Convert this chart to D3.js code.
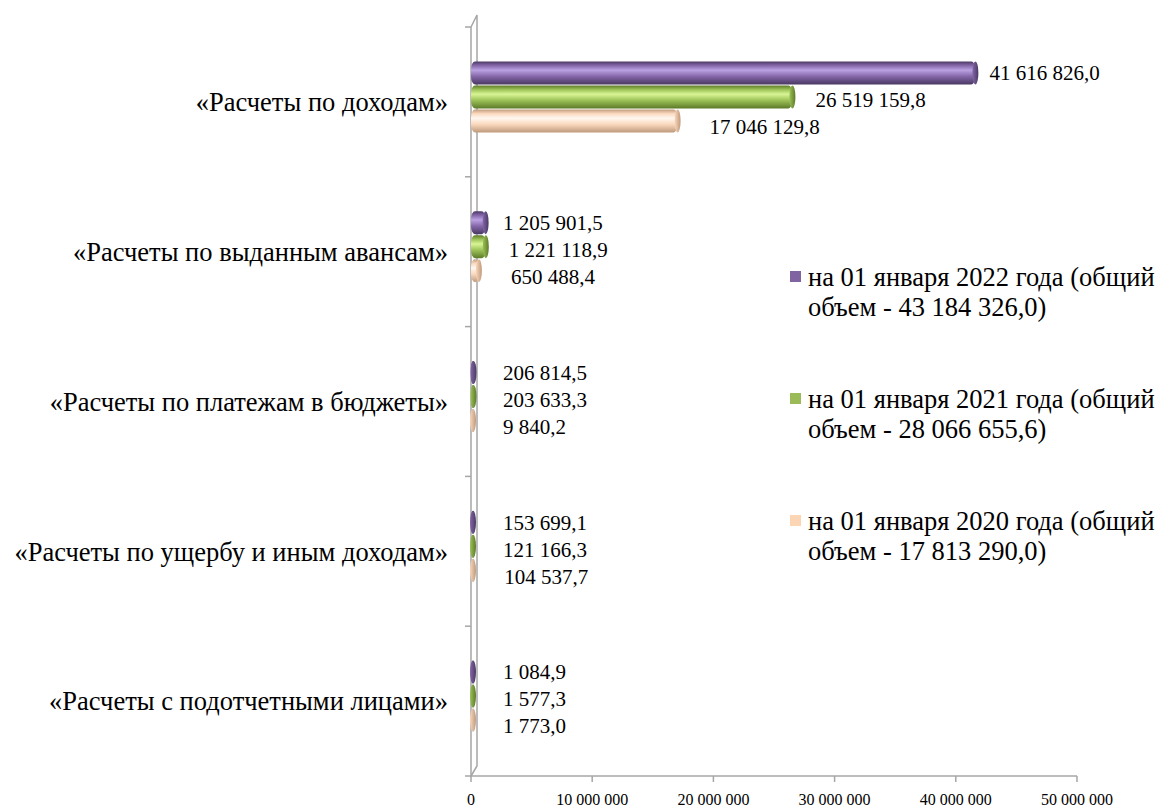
<!DOCTYPE html>
<html>
<head>
<meta charset="utf-8">
<script src="https://cdn.jsdelivr.net/npm/d3@7/dist/d3.min.js"></script>
<style>
    body { margin: 0; background: #fff; }
    svg text { font-family: "Liberation Serif", "Times New Roman", "DejaVu Serif", serif; fill: #000; }
</style>
</head>
<body>
<div id="myChart"></div>
<script>
let categories = [
    '«Расчеты по доходам»',
    '«Расчеты по выданным авансам»',
    '«Расчеты по платежам в бюджеты»',
    '«Расчеты по ущербу и иным доходам»',
    '«Расчеты с подотчетными лицами»',
];
let seriesNames = [
    'на 01 января 2022 года (общий|объем - 43 184 326,0)',
    'на 01 января 2021 года (общий|объем - 28 066 655,6)',
    'на 01 января 2020 года (общий|объем - 17 813 290,0)',
];
let values2022 = [41616826.0, 1205901.5, 206814.5, 153699.1, 1084.9];
let values2021 = [26519159.8, 1221118.9, 203633.3, 121166.3, 1577.3];
let values2020 = [17046129.8, 650488.4, 9840.2, 104537.7, 1773.0];
let xTicks = [0, 10000000, 20000000, 30000000, 40000000, 50000000];

let colors = [
    { base: '#8567a9', light: '#bba2e2', dark: '#4a3963', legend: '#8064a2' },
    { base: '#9cc258', light: '#d9f595', dark: '#5d7a28', legend: '#9bbb59' },
    { base: '#fad8bd', light: '#fff7f0', dark: '#bf9a7c', legend: '#fcd5b5' },
];

let width = 1161, height = 807;
let svg = d3.select('#myChart').append('svg')
    .attr('width', width).attr('height', height)
    .attr('font-family', 'Liberation Serif, serif');

let x = d3.scaleLinear().domain([0, 50000000]).range([471, 1077]);
let y = d3.scaleBand().domain(categories).range([27, 776]);
let ySub = d3.scaleBand().domain([0, 1, 2]).range([0, 72]);

let fmt = function (v) {
    let s = v.toFixed(1).split('.');
    return s[0].replace(/\B(?=(\d{3})+(?!\d))/g, ' ') + ',' + s[1];
};

// gradients for the cylinder bars
let defs = svg.append('defs');
colors.forEach((c, i) => {
    let g = defs.append('linearGradient').attr('id', 'grad' + i)
        .attr('x1', 0).attr('y1', 0).attr('x2', 0).attr('y2', 1);
    g.append('stop').attr('offset', '0%').attr('stop-color', c.dark);
    g.append('stop').attr('offset', '18%').attr('stop-color', c.base);
    g.append('stop').attr('offset', '38%').attr('stop-color', c.light);
    g.append('stop').attr('offset', '65%').attr('stop-color', c.base);
    g.append('stop').attr('offset', '100%').attr('stop-color', c.dark);
    let e = defs.append('linearGradient').attr('id', 'cap' + i)
        .attr('x1', 0).attr('y1', 0).attr('x2', 1).attr('y2', 0);
    e.append('stop').attr('offset', '0%').attr('stop-color', c.base);
    e.append('stop').attr('offset', '100%').attr('stop-color', c.dark);
});

// wall / axes
let wall = svg.append('g').attr('stroke', '#a6a6a6').attr('fill', 'none').attr('stroke-width', 1.5);
wall.append('path').attr('d', 'M471,27 L471,776 L1077,776');
wall.append('path').attr('d', 'M471,27 L477,15 L477,766 L471,776');

// category ticks on left
let bounds = categories.map((c) => y(c)).concat([y.range()[1]]);
svg.append('g').selectAll('line').data(bounds).enter().append('line')
    .attr('x1', 465).attr('x2', 471)
    .attr('y1', (d) => d).attr('y2', (d) => d)
    .attr('stroke', '#a6a6a6').attr('stroke-width', 1.5);

// bottom ticks
let xg = svg.append('g');
xg.selectAll('line').data(xTicks).enter().append('line')
    .attr('x1', (d) => x(d)).attr('x2', (d) => x(d))
    .attr('y1', 776).attr('y2', 782)
    .attr('stroke', '#a6a6a6').attr('stroke-width', 1.5);
xg.selectAll('text').data(xTicks).enter().append('text')
    .attr('x', (d) => x(d)).attr('y', 805)
    .attr('text-anchor', 'middle')
    .style('font-size', '16px')
    .text((d) => d3.format(',')(d).replace(/,/g, ' '));

// category labels
svg.append('g').selectAll('text').data(categories).enter().append('text')
    .attr('x', 448)
    .attr('y', (d) => y(d) + y.bandwidth() / 2)
    .attr('dy', '0.35em')
    .attr('text-anchor', 'end')
    .style('font-size', '26.5px')
    .text((d) => d);

// bars
let allSeries = [values2022, values2021, values2020];
let bh = 23;
allSeries.forEach((vals, si) => {
    let g = svg.append('g');
    let rows = vals.map((v, i) => ({ v: v, cat: categories[i] }));
    let top = (d) => y(d.cat) + y.bandwidth() / 2 - 41 + ySub(si) + (ySub.bandwidth() - bh) / 2;
    g.selectAll('rect').data(rows).enter().append('rect')
        .attr('x', x(0))
        .attr('y', top)
        .attr('width', (d) => Math.max(x(d.v) - x(0), 4))
        .attr('height', bh)
        .attr('rx', 4).attr('ry', 8)
        .attr('fill', 'url(#grad' + si + ')');
    g.selectAll('ellipse').data(rows).enter().append('ellipse')
        .attr('cx', (d) => Math.max(x(d.v), x(0) + 2))
        .attr('cy', (d) => top(d) + bh / 2)
        .attr('rx', 3).attr('ry', bh / 2)
        .attr('fill', 'url(#cap' + si + ')');
    g.selectAll('text').data(rows).enter().append('text')
        .attr('x', (d) => Math.max(x(d.v) + 14 + si * 9, 503))
        .attr('y', (d) => top(d) + bh / 2 + si * 3)
        .attr('dy', '0.35em')
        .style('font-size', '21px')
        .text((d) => fmt(d.v));
});

// legend
let lg = svg.append('g');
seriesNames.forEach((name, i) => {
    let ly = 277 + i * 122;
    lg.append('rect').attr('x', 790).attr('y', ly - 6).attr('width', 11).attr('height', 11)
        .attr('fill', colors[i].legend);
    let lines = name.split('|');
    lines.forEach((t, j) => {
        lg.append('text').attr('x', 808).attr('y', ly + j * 30)
            .attr('dy', '0.35em')
            .style('font-size', '26.5px')
            .text(t);
    });
});
</script>
</body>
</html>
